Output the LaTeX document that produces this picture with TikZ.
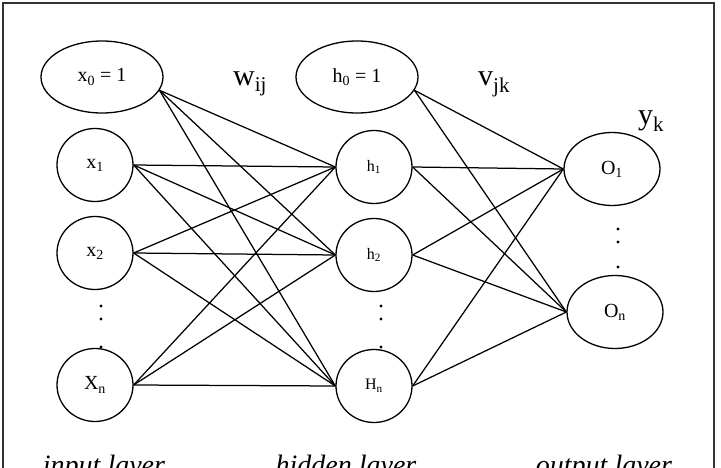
\documentclass[tikz,border=0pt]{standalone}
\usepackage{fontspec}
\setmainfont{Liberation Serif}
\usetikzlibrary{shapes.geometric}

\begin{document}
\begin{tikzpicture}[x=1pt,y=-1pt,
        neuron/.style={draw,ellipse,line width=1.3pt,inner sep=0pt,
            minimum width=76pt,minimum height=73pt,font=\fontsize{20}{24}\selectfont},
        bias/.style={neuron,minimum width=122pt,minimum height=72pt},
        outneuron/.style={neuron,minimum width=96pt,minimum height=73pt},
        hidneuron/.style={neuron,font=\fontsize{16}{19}\selectfont},
        conn/.style={line width=1.25pt},
        wlabel/.style={anchor=base west,inner sep=0pt,font=\fontsize{30}{36}\selectfont},
        layername/.style={anchor=base,inner sep=0pt,font=\fontsize{28}{34}\selectfont\itshape}]
        \useasboundingbox (0,0) rectangle (721,468);
        \clip (0,0) rectangle (721,468);

        % frame round the whole net
        \draw[line width=1.6pt,black!80] (3,3) rectangle (714,520);

        % input layer
        \node[bias]   (x0) at (102,77)  {x\textsubscript{0} = 1};
        \node[neuron] (x1) at (95,165)  {x\textsubscript{1}};
        \node[neuron] (x2) at (95,253)  {x\textsubscript{2}};
        \node[neuron] (xn) at (95,385)  {X\textsubscript{n}};

        % hidden layer
        \node[bias]      (h0) at (357,77)  {h\textsubscript{0} = 1};
        \node[hidneuron] (h1) at (374,167) {h\textsubscript{1}};
        \node[hidneuron] (h2) at (374,255) {h\textsubscript{2}};
        \node[hidneuron] (hn) at (374,386) {H\textsubscript{n}};

        % output layer
        \node[outneuron] (o1) at (612,169) {O\textsubscript{1}};
        \node[outneuron] (on) at (615,312) {O\textsubscript{n}};

        % the dots between the units
        \foreach \x in {101,381}
            \foreach \y in {306,319,347}
                \fill (\x,\y) circle (1.6pt);
        \foreach \y in {229,242,267}
            \fill (618,\y) circle (1.6pt);

        % weights input -> hidden
        \foreach \j in {h1,h2,hn} {
            \draw[conn] (x0.-13) -- (\j.west);
            \foreach \i in {x1,x2,xn}
                \draw[conn] (\i.east) -- (\j.west);
        }

        % weights hidden -> output
        \foreach \k in {o1,on} {
            \draw[conn] (h0.-13) -- (\k.west);
            \foreach \j in {h1,h2,hn}
                \draw[conn] (\j.east) -- (\k.west);
        }

        % weight and output names
        \node[wlabel] (w) at (233,86)  {w\textsubscript{ij}};
        \node[wlabel] (v) at (478,86)  {v\textsubscript{jk}};
        \node[wlabel] (y) at (638,125) {y\textsubscript{k}};

        % names of the layers
        \node[layername] (inname)  at (104,474) {input layer};
        \node[layername] (hidname) at (346,474) {hidden layer};
        \node[layername] (outname) at (604,474) {output layer};
\end{tikzpicture}
\end{document}
